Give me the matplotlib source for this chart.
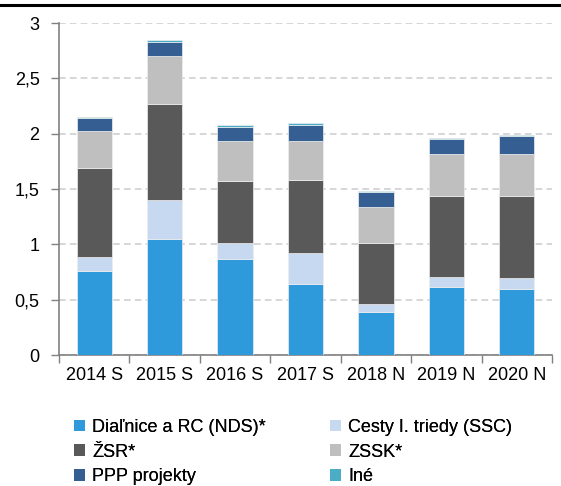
import numpy as np
import matplotlib
matplotlib.use('Agg')
import matplotlib.pyplot as plt
from matplotlib.lines import Line2D
from matplotlib.patches import Patch

plt.rcParams['font.family'] = ['Liberation Sans Narrow', 'Liberation Sans', 'DejaVu Sans']

years = ['2014 S', '2015 S', '2016 S', '2017 S', '2018 N', '2019 N', '2020 N']
dialnice = [0.76, 1.05, 0.87, 0.64, 0.39, 0.61, 0.60]
cesty = [0.13, 0.35, 0.14, 0.28, 0.07, 0.095, 0.10]
zsr = [0.80, 0.87, 0.56, 0.66, 0.555, 0.73, 0.74]
zssk = [0.33, 0.43, 0.36, 0.35, 0.32, 0.38, 0.38]
ppp = [0.12, 0.13, 0.13, 0.145, 0.135, 0.135, 0.16]
ine = [0.015, 0.017, 0.017, 0.02, 0.01, 0.01, 0.011]

series = [
    ('Diaľnice a RC (NDS)*', dialnice, '#2E9ADC'),
    ('Cesty I. triedy (SSC)', cesty, '#C6D9F1'),
    ('ŽSR*', zsr, '#595959'),
    ('ZSSK*', zssk, '#BFBFBF'),
    ('PPP projekty', ppp, '#355F93'),
    ('Iné', ine, '#4BACC6'),
]

fig = plt.figure(figsize=(5.61, 4.86), dpi=100)
ax = fig.add_axes([59 / 561, 1 - 355 / 486, (552 - 59) / 561, (355 - 23) / 486])

x = np.arange(len(years))
bottom = np.zeros(len(years))
for name, vals, col in series:
    ax.bar(x, vals, 0.5, bottom=bottom, color=col, edgecolor='#EEEEEE',
           linewidth=0.5, zorder=3)
    bottom += np.array(vals)

ax.set_xlim(-0.5, len(years) - 0.5)
ax.set_ylim(0, 3)
ax.set_yticks([0, 0.5, 1, 1.5, 2, 2.5, 3])
ax.set_yticklabels(['0', '0,5', '1', '1,5', '2', '2,5', '3'])
ax.yaxis.grid(True, color='#D0D0D0', linestyle=(0, (4, 2.5)), linewidth=1.2, zorder=0)

# category ticks between bars, labels centered
ax.set_xticks(np.arange(-0.5, len(years), 1))
ax.set_xticklabels([])
ax.set_xticks(x, minor=True)
ax.set_xticklabels(years, minor=True)
ax.tick_params(axis='x', which='minor', length=0, pad=9, labelsize=13)
ax.tick_params(axis='x', which='major', length=6, color='#808080', width=1)
ax.tick_params(axis='y', length=6, color='#808080', width=1, labelsize=13, pad=8)

for s in ['top', 'right']:
    ax.spines[s].set_visible(False)
for s in ['left', 'bottom']:
    ax.spines[s].set_color('#808080')
    ax.spines[s].set_linewidth(1.2)

handles = [Patch(facecolor=c, edgecolor='none') for _, _, c in series]
labels = [n for n, _, _ in series]
# two legend columns placed separately
for col, x0 in [(0, 74), (1, 330)]:
    leg = fig.legend(handles[col::2], labels[col::2], loc='upper left',
                     bbox_to_anchor=(x0 / 561, 1 - 419 / 486), frameon=False,
                     fontsize=13, handlelength=0.6, handleheight=0.6,
                     handletextpad=0.4, labelspacing=0.42, borderaxespad=0,
                     borderpad=0)
    fig.add_artist(leg)

fig.add_artist(Line2D([0, 1], [1 - 5 / 486, 1 - 5 / 486], color='black', linewidth=2.2))

fig.savefig('out.png', dpi=100)
